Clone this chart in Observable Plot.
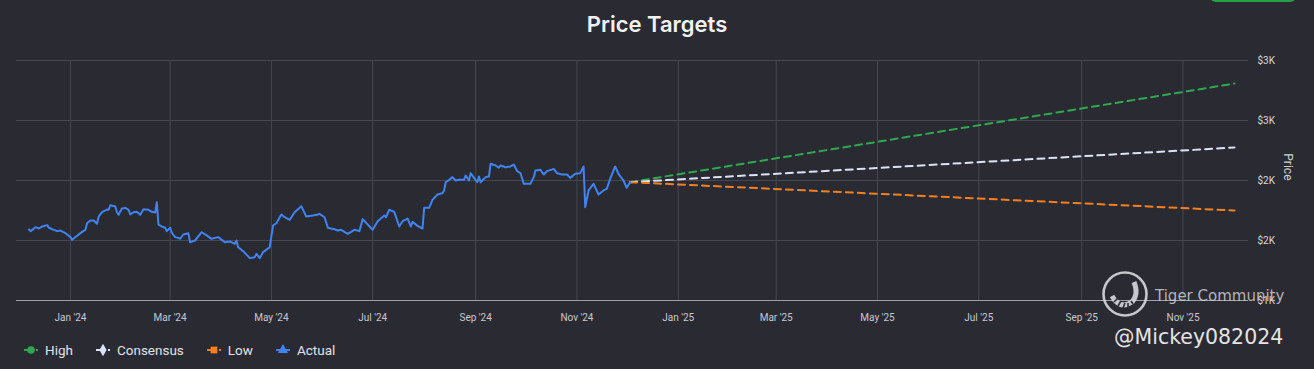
<!DOCTYPE html>
<html><head><meta charset="utf-8">
<script src="https://cdn.jsdelivr.net/npm/d3@7"></script>
<script src="https://cdn.jsdelivr.net/npm/@observablehq/plot@0.6"></script>
<style>
html,body{margin:0;padding:0;background:#2a2a32;}
#wrap{position:relative;width:1314px;height:369px;overflow:hidden;background:#2a2a32;font-family:Roboto,"Noto Sans",sans-serif;}
#chart{position:absolute;left:0;top:0;}
#title{position:absolute;left:0;width:1314px;top:11px;text-align:center;font-family:Inter,"Noto Sans",sans-serif;font-weight:600;font-size:22px;color:#f2f2f4;}
#legend{position:absolute;left:24px;top:342px;display:flex;gap:0;font-size:13.5px;color:#e2e2e8;}
.item{display:flex;align-items:center;margin-right:23px;}
.item svg{margin-right:7px;}
#btn{position:absolute;left:1210px;top:-20px;width:86px;height:22px;border-radius:6px;background:#27a046;}
#wm1{position:absolute;left:1155px;top:287px;font-family:"DejaVu Sans",sans-serif;font-size:15px;color:rgba(205,205,212,0.85);}
#wm2{position:absolute;left:1114px;top:325px;font-family:"DejaVu Sans",sans-serif;font-size:20.5px;color:#e4e4e8;}
#logo{position:absolute;left:1100px;top:270px;}
</style></head>
<body><div id="wrap">
<div id="btn"></div>
<div id="title">Price Targets</div>
<div id="chart"></div>
<div id="legend"></div>
<svg id="logo" width="50" height="50" viewBox="0 0 50 50"><circle cx="25" cy="24" r="21.5" fill="none" stroke="rgba(215,215,222,0.9)" stroke-width="2.6"/><path d="M12 26 Q20 40 32 32 Q39 24 34 12" fill="none" stroke="rgba(215,215,222,0.9)" stroke-width="5"/><path d="M14 32 L18 28 M18 36 L21 31 M23 38 L25 33 M28 37 L28 33 M33 34 L31 31" stroke="#2a2a32" stroke-width="1.6"/></svg>
<div id="wm1">Tiger Community</div>
<div id="wm2">@Mickey082024</div>
</div>
<script>
const actualDates = ["2023-12-07","2023-12-08","2023-12-11","2023-12-13","2023-12-15","2023-12-18","2023-12-19","2023-12-22","2023-12-24","2023-12-26","2023-12-29",
"2024-01-01","2024-01-02","2024-01-05","2024-01-08","2024-01-10","2024-01-11","2024-01-13","2024-01-15","2024-01-17","2024-01-18","2024-01-20","2024-01-23","2024-01-24","2024-01-25","2024-01-28","2024-01-29","2024-01-30",
"2024-02-01","2024-02-03","2024-02-05","2024-02-06","2024-02-08","2024-02-10","2024-02-12","2024-02-14","2024-02-17","2024-02-19","2024-02-21","2024-02-22","2024-02-23","2024-02-25","2024-02-27","2024-02-28",
"2024-03-01","2024-03-02","2024-03-04","2024-03-06","2024-03-07","2024-03-09","2024-03-12","2024-03-13","2024-03-16","2024-03-20","2024-03-23","2024-03-26","2024-03-30",
"2024-04-03","2024-04-06","2024-04-09","2024-04-10","2024-04-11","2024-04-14","2024-04-18","2024-04-21","2024-04-22","2024-04-24","2024-04-26","2024-04-30",
"2024-05-02","2024-05-04","2024-05-07","2024-05-09","2024-05-12","2024-05-15","2024-05-19","2024-05-22","2024-05-26","2024-05-29","2024-05-30",
"2024-06-02","2024-06-04","2024-06-08","2024-06-10","2024-06-12","2024-06-16","2024-06-20","2024-06-23","2024-06-25","2024-06-28",
"2024-07-01","2024-07-04","2024-07-08","2024-07-09","2024-07-11","2024-07-14","2024-07-17","2024-07-19","2024-07-22","2024-07-24","2024-07-25","2024-07-28","2024-07-31",
"2024-08-01","2024-08-04","2024-08-06","2024-08-09","2024-08-12","2024-08-13","2024-08-14","2024-08-15","2024-08-18","2024-08-20","2024-08-22","2024-08-25","2024-08-26","2024-08-28","2024-08-29",
"2024-09-01","2024-09-02","2024-09-03","2024-09-04","2024-09-07","2024-09-09","2024-09-10","2024-09-13","2024-09-15","2024-09-16","2024-09-19","2024-09-22","2024-09-24","2024-09-26","2024-09-28","2024-09-30",
"2024-10-04","2024-10-06","2024-10-07","2024-10-10","2024-10-12","2024-10-14","2024-10-18","2024-10-20","2024-10-23","2024-10-26","2024-10-28","2024-10-31",
"2024-11-03","2024-11-05","2024-11-06","2024-11-08","2024-11-11","2024-11-14","2024-11-17","2024-11-19","2024-11-21","2024-11-24","2024-11-26","2024-11-29",
"2024-12-01","2024-12-03"];
const actualPrices = [1592,1578,1611,1600,1617,1628,1606,1589,1578,1583,1561,
1528,1506,1539,1572,1589,1644,1667,1667,1639,1700,1736,1758,1756,1794,1783,1736,1714,
1767,1772,1756,1717,1736,1739,1714,1761,1756,1739,1733,1819,1633,1617,1606,1578,
1606,1567,1528,1522,1514,1550,1561,1486,1500,1569,1542,1514,1528,
1486,1492,1472,1500,1444,1411,1353,1361,1389,1353,1403,1444,
1625,1644,1717,1694,1672,1736,1786,1700,1708,1717,1722,
1694,1606,1594,1583,1589,1556,1589,1578,1678,1633,
1589,1661,1708,1694,1756,1739,1617,1661,1683,1617,1656,1622,1600,
1772,1772,1839,1883,1894,1917,1986,1994,2028,2000,2006,2006,2042,2000,2061,
2003,1986,2033,1986,2028,2033,2139,2125,2106,2125,2111,2117,2133,2078,2061,1972,
1972,2028,2083,2089,2050,2078,2097,2061,2050,2050,2022,2056,
2061,2117,1778,1917,1972,1883,1917,1931,2014,2117,2056,2000,
1939,1986];
const targetDates = ["2024-12-03","2025-12-02"];
const highTargets = [1986, 2808];
const consensusTargets = [1986, 2275];
const lowTargets = [1986, 1750];
const yTicks = [1000, 1500, 2000, 2500, 3000];
const xTickDates = ["2024-01-01","2024-03-01","2024-05-01","2024-07-01","2024-09-01","2024-11-01","2025-01-01","2025-03-01","2025-05-01","2025-07-01","2025-09-01","2025-11-01"];
const xDomain = ["2023-11-29T12:00:00Z","2025-12-10T10:00:00Z"];
const seriesNames = ["High","Consensus","Low","Actual"];
const seriesColors = ["#2fa84f","#dde2fb","#f7801e","#4083f2"];
const seriesSymbols = ["circle","diamond","square","triangle"];

const P = s => new Date(s);
const actual = actualDates.map((d,i)=>({date:P(d), price:actualPrices[i]}));
const mk = arr => targetDates.map((d,i)=>({date:P(d), price:arr[i]}));
const high = mk(highTargets), cons = mk(consensusTargets), low = mk(lowTargets);
const xt = xTickDates.map(P);

const chart = Plot.plot({
  width: 1314, height: 369,
  marginTop: 60, marginBottom: 69, marginLeft: 16, marginRight: 66,
  style: {background: "transparent", color: "#d4d4dc", fontFamily: "Roboto, sans-serif", fontSize: "10px"},
  x: {type: "utc", domain: xDomain.map(P)},
  y: {domain: [1000, 3000]},
  marks: [
    Plot.gridY(yTicks, {stroke: "#474752", strokeOpacity: 1}),
    Plot.gridX(xt, {stroke: "#474752", strokeOpacity: 1}),
    Plot.ruleY([1000], {stroke: "#a0a0aa", strokeWidth: 1}),
    Plot.axisX(xt, {tickSize: 0, tickPadding: 13, tickFormat: d3.utcFormat("%b '%y"), label: null, fill: "#c8c8d0"}),
    Plot.axisY(yTicks, {anchor: "right", tickSize: 0, tickPadding: 9, textAnchor: "start", tickFormat: d => "$" + Math.round(d/1000) + "K", label: null, fill: "#d8d8de"}),
    Plot.text(["Price"], {frameAnchor: "right", dx: 39, rotate: 90, fill: "#cfcfd6", fontSize: 12}),
    Plot.line(high, {x: "date", y: "price", stroke: seriesColors[0], strokeWidth: 2, strokeDasharray: "7,5"}),
    Plot.line(cons, {x: "date", y: "price", stroke: seriesColors[1], strokeWidth: 2, strokeDasharray: "7,5"}),
    Plot.line(low, {x: "date", y: "price", stroke: seriesColors[2], strokeWidth: 2, strokeDasharray: "7,5"}),
    Plot.line(actual, {x: "date", y: "price", stroke: seriesColors[3], strokeWidth: 2, strokeLinejoin: "round"})
  ]
});
document.getElementById("chart").appendChild(chart);

const legend = d3.select("#legend");
seriesNames.forEach((name, i) => {
  const it = legend.append("div").attr("class","item");
  const svg = it.append("svg").attr("width", 14).attr("height", 12);
  svg.append("line").attr("x1",0).attr("x2",14).attr("y1",6).attr("y2",6).attr("stroke",seriesColors[i]).attr("stroke-width",2).attr("stroke-dasharray", i<3 ? "4,2" : null);
  svg.append("path").attr("transform","translate(7,6)").attr("d", d3.symbol(d3["symbol" + seriesSymbols[i][0].toUpperCase() + seriesSymbols[i].slice(1)], 45)()).attr("fill", seriesColors[i]);
  it.append("span").text(name);
});
</script>
</body></html>
